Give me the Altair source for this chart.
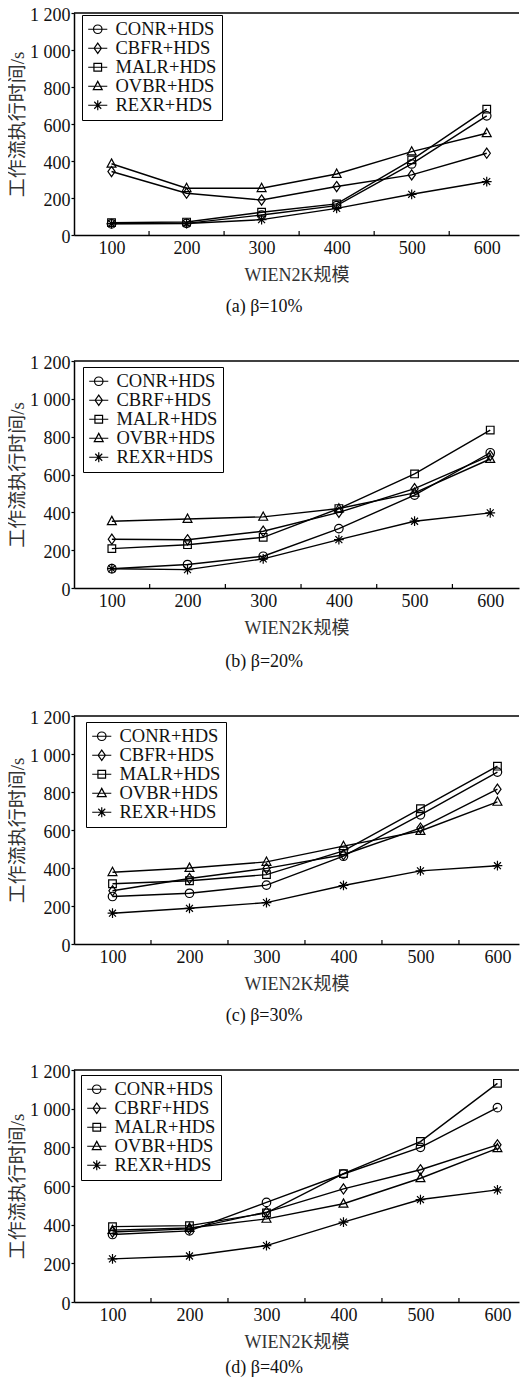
import altair as alt
import pandas as pd

sizes = [100, 200, 300, 400, 500, 600]
minor_ticks = [150, 250, 350, 450, 550]
y_ticks = [0, 200, 400, 600, 800, 1000, 1200]

names_a = ["CONR+HDS", "CBFR+HDS", "MALR+HDS", "OVBR+HDS", "REXR+HDS"]
names_b = ["CONR+HDS", "CBRF+HDS", "MALR+HDS", "OVBR+HDS", "REXR+HDS"]
names_c = ["CONR+HDS", "CBFR+HDS", "MALR+HDS", "OVBR+HDS", "REXR+HDS"]
names_d = ["CONR+HDS", "CBRF+HDS", "MALR+HDS", "OVBR+HDS", "REXR+HDS"]

# panel (a) beta=10%
conr_a = [60, 63, 108, 159, 384, 644]
cbfr_a = [343, 226, 189, 262, 325, 442]
malr_a = [67, 70, 123, 168, 406, 680]
ovbr_a = [385, 253, 253, 330, 451, 550]
rexr_a = [62, 62, 83, 144, 220, 289]

# panel (b) beta=20%
conr_b = [102, 124, 168, 314, 491, 715]
cbrf_b = [258, 255, 300, 400, 525, 700]
malr_b = [208, 229, 268, 420, 603, 835]
ovbr_b = [353, 365, 376, 420, 503, 682]
rexr_b = [102, 97, 154, 256, 353, 397]

# panel (c) beta=30%
conr_c = [250, 267, 310, 462, 680, 905]
cbfr_c = [280, 345, 398, 470, 610, 815]
malr_c = [317, 333, 365, 490, 712, 936]
ovbr_c = [378, 400, 432, 515, 595, 748]
rexr_c = [162, 188, 218, 308, 385, 412]

# panel (d) beta=40%
conr_d = [349, 368, 515, 662, 800, 1005]
cbrf_d = [362, 378, 465, 585, 684, 813]
malr_d = [390, 395, 461, 664, 830, 1131]
ovbr_d = [372, 383, 430, 508, 640, 795]
rexr_d = [223, 238, 292, 413, 530, 580]

captions = ["(a) β=10%", "(b) β=20%", "(c) β=30%", "(d) β=40%"]

marker_paths = [
    "M-1,0A1,1,0,1,0,1,0A1,1,0,1,0,-1,0Z",
    "M0,-1.2L0.85,0L0,1.2L-0.85,0Z",
    "M-0.9,-0.9H0.9V0.9H-0.9Z",
    "M0,-1.15L1.05,0.8H-1.05Z",
    "M-1.15,0H1.15M0,-1.15V1.15M-0.82,-0.82L0.82,0.82M-0.82,0.82L0.82,-0.82",
]
legend_paths = ["M-2.25,0H2.25" + p for p in marker_paths]

SERIF = "Liberation Serif"
MIXED = "Liberation Serif, Noto Sans CJK SC"
W = 445
NBSP2 = "\u00a0\u00a0"


def panel(names, series, caption, height, xmax, lx, ly, cap_off):
    rows = []
    for name, vals in zip(names, series):
        for s, v in zip(sizes, vals):
            rows.append({"size": s, "time": v, "series": name})
    df = pd.DataFrame(rows)
    xs = alt.Scale(domain=[50, xmax], nice=False, zero=False)
    ys = alt.Scale(domain=[0, 1200], nice=False, zero=False)
    x = alt.X("size:Q", scale=xs,
              axis=alt.Axis(values=sizes, tickSize=0, labelPadding=4, grid=False,
                            title="WIEN2K规模", titlePadding=9, labelFlush=False,
                            domainColor="black", domainWidth=1.5))
    y = alt.Y("time:Q", scale=ys,
              axis=alt.Axis(values=y_ticks, tickSize=3, labelPadding=1, grid=False,
                            title="工作流执行时间/s", titlePadding=2, labelOffset=2,
                            labelExpr="replace(format(datum.value, ','), ',', ' ')",
                            domainColor="black", domainWidth=1.5,
                            tickColor="black", tickWidth=1.2))
    base = alt.Chart(df)
    lines = base.mark_line(color="black", strokeWidth=1.4).encode(
        x=x, y=y, detail="series:N", order="size:Q")
    points = base.mark_point(filled=False, color="black", opacity=1, size=72,
                             strokeWidth=1.2).encode(
        x=x, y=y,
        shape=alt.Shape("series:N", scale=alt.Scale(domain=names, range=marker_paths),
                        legend=None))
    leg = base.transform_filter("false").mark_point(
        filled=False, color="black", opacity=1, size=72, strokeWidth=1.2).encode(
        shape=alt.Shape("series:N", scale=alt.Scale(domain=names, range=legend_paths),
                        legend=alt.Legend(orient="none", legendX=lx, legendY=ly,
                                          title=None, strokeColor="black",
                                          fillColor="white", padding=5,
                                          symbolSize=72, symbolStrokeWidth=1.2,
                                          symbolStrokeColor="black",
                                          symbolFillColor="transparent",
                                          symbolOffset=1.5, labelOffset=8.5,
                                          rowPadding=0, labelFont=SERIF,
                                          labelFontSize=18.5, labelColor="#111",
                                          labelExpr="datum.label + '" + NBSP2 + "'")))
    ticks = alt.Chart(pd.DataFrame({"size": minor_ticks})).mark_rule(
        color="black", strokeWidth=1.2).encode(
        x=x, y=alt.value(height - 4), y2=alt.value(height))
    top = alt.Chart(pd.DataFrame({"z": [0]})).mark_rule(
        color="black", strokeWidth=1.5).encode(
        x=alt.value(0), x2=alt.value(W), y=alt.value(0))
    return alt.layer(lines, points, leg, ticks, top).resolve_scale(
        shape="independent").properties(
        width=W, height=height,
        title=alt.TitleParams(caption, orient="bottom", font=SERIF, fontSize=18,
                              fontWeight="normal", offset=cap_off, anchor="middle",
                              frame="bounds", color="#111"))


charts = [
    panel(names_a, [conr_a, cbfr_a, malr_a, ovbr_a, rexr_a], captions[0], 222, 643, 8, 2, 14),
    panel(names_b, [conr_b, cbrf_b, malr_b, ovbr_b, rexr_b], captions[1], 227, 638, 9, 6, 16),
    panel(names_c, [conr_c, cbfr_c, malr_c, ovbr_c, rexr_c], captions[2], 228, 628, 12, 6, 14),
    panel(names_d, [conr_d, cbrf_d, malr_d, ovbr_d, rexr_d], captions[3], 232, 628, 7, 5, 8),
]

chart = alt.vconcat(*charts, spacing=38).properties(
    padding={"left": 0, "top": -2, "right": 0, "bottom": 0}
).configure_view(stroke=None).configure_axis(
    labelFont=SERIF, labelFontSize=18, labelColor="#111",
    titleFont=MIXED, titleFontSize=18, titleFontWeight="normal", titleColor="#333",
).configure_axisY(titleFontSize=19)

chart.save("out.html", embed_options={"renderer": "svg", "actions": False})
